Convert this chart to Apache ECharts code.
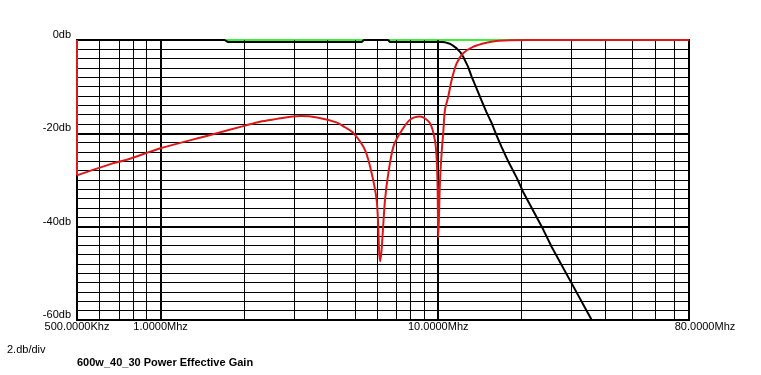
<!DOCTYPE html>
<html>
<head>
<meta charset="utf-8">
<script src="https://cdn.jsdelivr.net/npm/echarts@6/dist/echarts.min.js"></script>
<style>
html,body{margin:0;padding:0;background:#fff;}
#chart{width:761px;height:375px;}
</style>
</head>
<body>
<div id="chart"></div>
<script>
// ---- data (frequencies in MHz, gains in dB) ----
const xLabelFreqs = [0.5, 1, 10, 80];
const xLabelTexts = ['500.0000Khz', '1.0000Mhz', '10.0000Mhz', '80.0000Mhz'];
const yTickValues = [0, -20, -40, -60];
const yLabelTexts = ['0db', '-20db', '-40db', '-60db'];
const xGridThin = [0.6, 0.7, 0.8, 0.9, 2, 3, 4, 5, 6, 7, 8, 9, 20, 30, 40, 50, 60, 70];
const xGridThick = [1, 10];

const greenFreq = [0.5, 80];
const greenGain = [0, 0];

const blackFreq = [0.5, 1.7, 1.75, 5.3, 5.4, 6.6, 6.7, 10.3, 10.6, 11.0, 11.3, 11.65, 12.0, 12.3, 12.8, 13.2, 13.75, 14.3, 14.9, 15.6, 16.2, 16.9, 17.9, 19.2, 20.2, 23.6, 25.6, 30.2, 35.7];
const blackGain = [0, 0, -0.45, -0.45, 0, 0, -0.45, -0.45, -0.5, -0.8, -1.2, -1.8, -2.6, -3.6, -5.7, -7.9, -10.4, -12.9, -15.4, -17.9, -20.4, -22.9, -26.1, -29.6, -32.5, -40.0, -44.3, -52.1, -60];

const redFreq = [0.5, 0.5, 0.66, 0.76, 1.0, 1.5, 2.0, 2.28, 2.63, 2.9, 3.2, 3.66, 4.32, 4.61, 4.96, 5.45, 5.76, 6.0, 6.08, 6.13, 6.18, 6.25, 6.31, 6.43, 6.61, 6.89, 7.28, 7.91, 8.59, 9.33, 9.73, 9.87, 9.95, 10.0, 10.06, 10.14, 10.29, 10.42, 10.57, 10.87, 11.17, 11.65, 12.3, 13.4, 14.9, 16.2, 18.1, 20.8, 80];
const redGain = [0, -29.0, -26.6, -25.6, -23.2, -20.4, -18.4, -17.5, -16.9, -16.5, -16.3, -16.6, -17.7, -18.7, -20.0, -23.6, -28.6, -34.3, -40.0, -45.7, -47.4, -45.0, -41.4, -34.3, -28.6, -22.9, -20.0, -17.1, -16.4, -17.8, -21.5, -25.5, -32.1, -42.4, -38.0, -30.7, -24.0, -20.0, -15.0, -12.1, -8.6, -5.0, -2.85, -1.43, -0.58, -0.21, -0.06, 0, 0];

// ---- build ----
const lg = v => Math.log10(v);
const toPts = (fs, gs) => fs.map((f, i) => [lg(f), gs[i]]);
const redPts = toPts(redFreq, redGain);

const gridLines = []
  .concat(xGridThin.map(f => ({ xAxis: lg(f), lineStyle: { width: 1, color: '#000', type: 'solid' } })))
  .concat(xGridThick.map(f => ({ xAxis: lg(f), lineStyle: { width: 2, color: '#000', type: 'solid' } })));

const chart = echarts.init(document.getElementById('chart'), null, { renderer: 'canvas' });
const FONT = 'Liberation Sans';
const RED = '#dc1818';

chart.setOption({
  animation: false,
  backgroundColor: '#fff',
  grid: {
    left: 77, top: 40, right: 72, bottom: 55,
    show: true, borderColor: '#000', borderWidth: 2, backgroundColor: '#fff', z: 0
  },
  xAxis: {
    type: 'value',
    min: lg(xLabelFreqs[0]),
    max: lg(xLabelFreqs[xLabelFreqs.length - 1]),
    axisLine: { show: false },
    axisTick: { show: false },
    splitLine: { show: false },
    axisLabel: {
      customValues: xLabelFreqs.map(lg),
      showMinLabel: true,
      showMaxLabel: true,
      margin: 1,
      fontFamily: FONT,
      fontSize: 11,
      lineHeight: 11,
      color: '#000',
      formatter: function (v) {
        let idx = 0, best = Infinity;
        xLabelFreqs.forEach((f, i) => { const d = Math.abs(lg(f) - v); if (d < best) { best = d; idx = i; } });
        if (idx === xLabelFreqs.length - 1) return '{r|' + xLabelTexts[idx] + '}';
        return xLabelTexts[idx];
      },
      rich: {
        r: { fontFamily: FONT, fontSize: 11, color: '#000', padding: [0, 0, 0, 32] }
      }
    }
  },
  yAxis: {
    type: 'value',
    min: -60, max: 0, interval: 20,
    axisLine: { show: false },
    axisTick: { show: false },
    splitLine: { show: true, lineStyle: { color: '#000', width: 2 } },
    minorTick: { show: false, splitNumber: 10 },
    minorSplitLine: { show: true, lineStyle: { color: '#000', width: 1 } },
    axisLabel: {
      margin: 6,
      fontFamily: FONT,
      fontSize: 11,
      lineHeight: 10,
      color: '#000',
      verticalAlign: 'bottom',
      formatter: function (v) {
        const i = yTickValues.indexOf(v);
        return i >= 0 ? yLabelTexts[i] : '';
      }
    }
  },
  graphic: [
    { type: 'text', left: 7, top: 344, style: { text: '2.db/div', font: '11px "Liberation Sans"', fill: '#000' } },
    { type: 'text', left: 77, top: 357, style: { text: '600w_40_30 Power Effective Gain', font: 'bold 11px "Liberation Sans"', fill: '#000' } }
  ],
  series: [
    {
      type: 'line', data: [], z: 1, silent: true,
      markLine: { silent: true, symbol: 'none', label: { show: false }, data: gridLines, animation: false }
    },
    {
      type: 'line', data: toPts(greenFreq, greenGain), z: 3, clip: false,
      showSymbol: false, lineStyle: { color: '#3ef03e', width: 2 }
    },
    {
      type: 'line', data: toPts(blackFreq, blackGain), z: 4, clip: false,
      showSymbol: false, lineStyle: { color: '#000', width: 2 }
    },
    {
      type: 'line', data: redPts.slice(0, 2), z: 5, clip: false,
      showSymbol: false, lineStyle: { color: RED, width: 2 }
    },
    {
      type: 'line', data: redPts.slice(1), z: 5, clip: false,
      showSymbol: false, smooth: 0.3,
      lineStyle: { color: RED, width: 2 }
    }
  ]
});
</script>
</body>
</html>
